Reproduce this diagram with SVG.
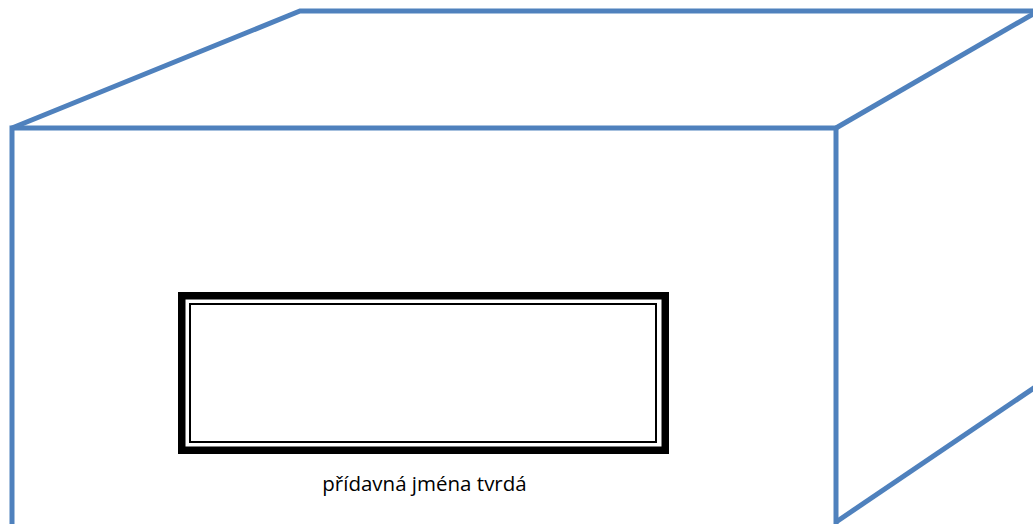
<svg xmlns="http://www.w3.org/2000/svg" width="1033" height="524" viewBox="0 0 1033 524">
  <style>
    .edge { fill: none; stroke: #4F81BD; stroke-width: 5; stroke-linejoin: miter; stroke-linecap: butt; }
    .frameOuter { fill: #FFFFFF; stroke: #000000; stroke-width: 7.5; }
    .frameInner { fill: none; stroke: #000000; stroke-width: 2; }
    .label { font-family: "Open Sans", "Liberation Sans", sans-serif; font-size: 20.5px; fill: #000000; }
  </style>
  <rect x="0" y="0" width="1033" height="524" fill="#FFFFFF"/>
  <g id="box">
    <polyline class="edge" points="12,535 12,128 836,128 836,535"/>
    <polyline class="edge" points="12,128 300,11 1045,11"/>
    <line class="edge" x1="836" y1="128" x2="1040" y2="10"/>
    <line class="edge" x1="836" y1="522" x2="1045" y2="380.5"/>
  </g>
  <g id="label-frame">
    <rect class="frameOuter" x="181.75" y="295.75" width="483.5" height="154.5"/>
    <rect class="frameInner" x="190" y="304" width="466" height="138"/>
  </g>
  <g id="caption">
    <text class="label" x="424.5" y="491" text-anchor="middle">přídavná jména tvrdá</text>
  </g>
</svg>
